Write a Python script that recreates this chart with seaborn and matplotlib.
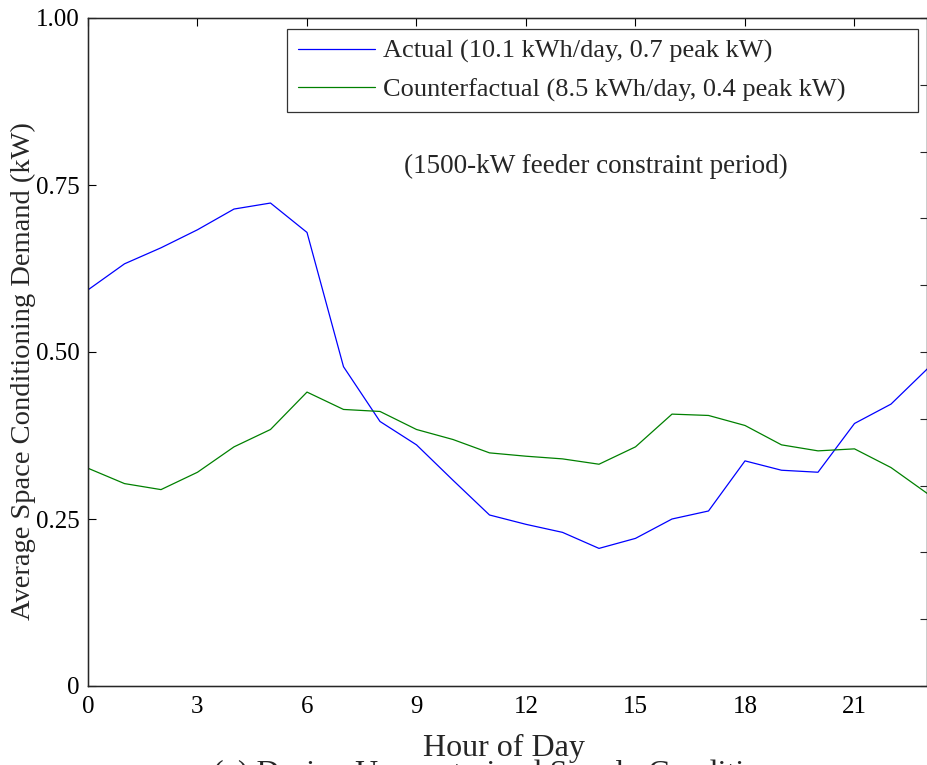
import pandas as pd
import matplotlib
matplotlib.use("Agg")
import matplotlib.pyplot as plt
import seaborn as sns

# hourly average space conditioning demand (kW)
hours = list(range(24))
actual = [0.593, 0.632, 0.656, 0.683, 0.714, 0.723, 0.679, 0.478, 0.396, 0.361,
          0.308, 0.256, 0.242, 0.230, 0.206, 0.221, 0.250, 0.262, 0.337, 0.323,
          0.320, 0.393, 0.422, 0.475]
counterfactual = [0.326, 0.303, 0.294, 0.320, 0.358, 0.384, 0.440, 0.414, 0.411, 0.384,
                  0.369, 0.349, 0.344, 0.340, 0.332, 0.358, 0.407, 0.405, 0.390, 0.361,
                  0.352, 0.355, 0.327, 0.288]
series_names = ["Actual (10.1 kWh/day, 0.7 peak kW)",
                "Counterfactual (8.5 kWh/day, 0.4 peak kW)"]
x_ticks = [0, 3, 6, 9, 12, 15, 18, 21]
y_ticks = [0, 0.25, 0.5, 0.75, 1.0]
y_ticklabels = ["0", "0.25", "0.50", "0.75", "1.00"]

df = pd.DataFrame({
    "hour": hours * 2,
    "demand": actual + counterfactual,
    "series": [series_names[0]] * 24 + [series_names[1]] * 24,
})

sns.set_style("white")
plt.rcParams["font.family"] = ["Liberation Serif", "DejaVu Serif"]

fig = plt.figure(figsize=(9.28, 7.65), dpi=100)
ax = fig.add_axes([88 / 928, 79 / 765, 839.5 / 928, 668 / 765])

sns.lineplot(data=df, x="hour", y="demand", hue="series",
             palette=["#0000ff", "#008000"], linewidth=0.9, ax=ax)

ax.set_xlim(0, 23)
ax.set_ylim(0, 1)
ax.set_xticks(x_ticks)
ax.set_yticks(y_ticks)
ax.set_yticklabels(y_ticklabels)
ax.tick_params(direction="in", length=6, width=0.8, labelsize=18, top=True,
               colors="black", pad=7)
ax.tick_params(axis="y", pad=6)
for s in ax.spines.values():
    s.set_color("black")
    s.set_linewidth(1.0)

# right side ticks every 0.1 (second axis, labels outside the crop)
ax2 = ax.twinx()
ax2.set_ylim(0, 1)
ax2.set_yticks([i / 10 for i in range(11)])
ax2.set_yticklabels([])
ax2.tick_params(direction="in", length=6, width=0.8)

ax.set_xlabel("Hour of Day", fontsize=23)
ax.xaxis.set_label_coords(0.496, -0.072)
ax.set_ylabel("Average Space Conditioning Demand (kW)", fontsize=20.5)
ax.yaxis.set_label_coords(-0.062, 0.472)

# wide legend box like the matlab one, entries left aligned
leg = ax.legend(loc="upper left", bbox_to_anchor=(0.237, 0.5, 0.752, 0.4835),
                mode="expand", fontsize=19, frameon=True, fancybox=False,
                handlelength=2.95, borderpad=0.4, labelspacing=0.55,
                handletextpad=0.3, borderaxespad=0)
leg.get_frame().set_edgecolor("black")
leg.get_frame().set_linewidth(0.9)

ax.text(0.605, 0.778, "(1500-kW feeder constraint period)", transform=ax.transAxes,
        ha="center", va="center", fontsize=19.5)

fig.text(0.54, -0.012, "(a) During Unconstrained Supply Conditions",
         ha="center", va="center", fontsize=23)

fig.savefig("out.png", dpi=100)
